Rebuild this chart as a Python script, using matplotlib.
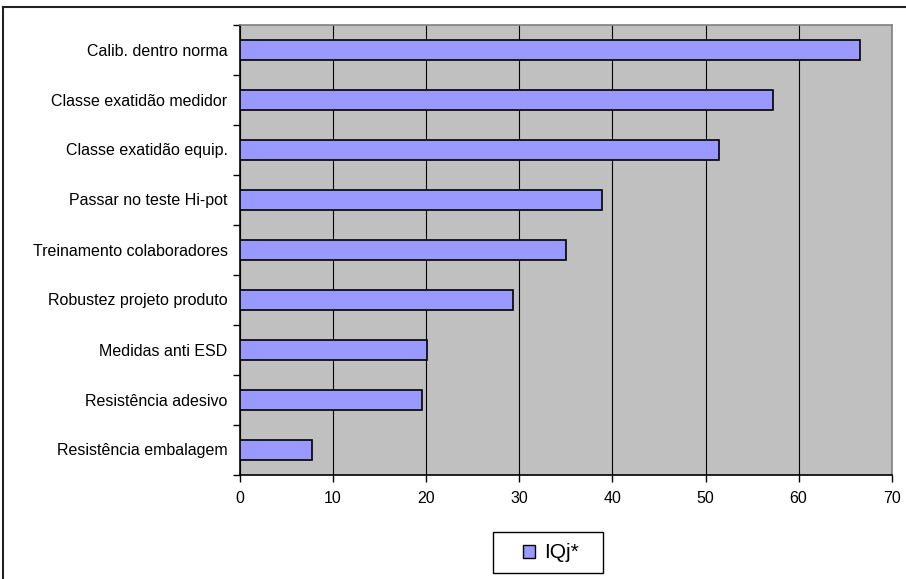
import numpy as np
import matplotlib
matplotlib.use("Agg")
import matplotlib.pyplot as plt
from matplotlib.lines import Line2D
from matplotlib.patches import Patch, Rectangle

# categories top to bottom
categories = [
    "Calib. dentro norma",
    "Classe exatidão medidor",
    "Classe exatidão equip.",
    "Passar no teste Hi-pot",
    "Treinamento colaboradores",
    "Robustez projeto produto",
    "Medidas anti ESD",
    "Resistência adesivo",
    "Resistência embalagem",
]
iqj = [66.6, 57.3, 51.4, 38.9, 35.0, 29.3, 20.1, 19.6, 7.7]
x_ticks = [0, 10, 20, 30, 40, 50, 60, 70]
series_name = "IQj*"

plt.rcParams['font.family'] = ['Liberation Sans', 'DejaVu Sans']

W, H = 906, 579
fig = plt.figure(figsize=(W / 100, H / 100), dpi=100)
ax = fig.add_axes([240 / W, 1 - 474.5 / H, (891.7 - 240) / W, (474.5 - 24.5) / H])
ax.set_facecolor('#C0C0C0')

y = np.arange(len(categories))
ax.barh(y, iqj, height=0.4, color='#9999FF', edgecolor='black', linewidth=1.2, zorder=3)

ax.set_xlim(0, 70)
ax.set_ylim(len(categories) - 0.5, -0.5)
ax.set_xticks(x_ticks)
ax.set_xticklabels([str(t) for t in x_ticks], fontsize=11.5)
ax.xaxis.grid(True, color='black', linewidth=0.8, zorder=1)
ax.set_axisbelow(True)

# category boundaries carry the tick marks, labels sit at centres
ax.set_yticks(np.arange(-0.5, len(categories)))
ax.set_yticklabels([])
ax.set_yticks(y, minor=True)
ax.set_yticklabels(categories, minor=True, fontsize=11.5)
ax.tick_params(axis='y', which='minor', length=0, pad=9)
ax.tick_params(axis='y', which='major', length=5, width=1, direction='out')
ax.tick_params(axis='x', length=5, width=1, direction='out', pad=7)

for side in ['top', 'right']:
    ax.spines[side].set_color('#808080')
    ax.spines[side].set_linewidth(1.2)
for side in ['left', 'bottom']:
    ax.spines[side].set_color('black')
    ax.spines[side].set_linewidth(1.2)

# legend entry, frame drawn separately to get Excel's wide box
handle = Patch(facecolor='#9999FF', edgecolor='black', linewidth=1)
leg = fig.legend([handle], [series_name], loc='center', bbox_to_anchor=(551 / W, 1 - 553 / H),
                 fontsize=15, frameon=False,
                 handlelength=0.6, handleheight=0.6, handletextpad=0.45, borderpad=0.2)
fig.add_artist(Rectangle((492.7 / W, 1 - 573.3 / H), 110 / W, 41 / H, transform=fig.transFigure,
                         facecolor='none', edgecolor='black', linewidth=1))

# chart area border (left and top visible)
fig.add_artist(Line2D([3 / W, 3 / W], [0, 1 - 7 / H], color='#222222', linewidth=1.5))
fig.add_artist(Line2D([3 / W, 1], [1 - 7 / H, 1 - 7 / H], color='#222222', linewidth=1.5))

fig.savefig("out.png", dpi=100)
